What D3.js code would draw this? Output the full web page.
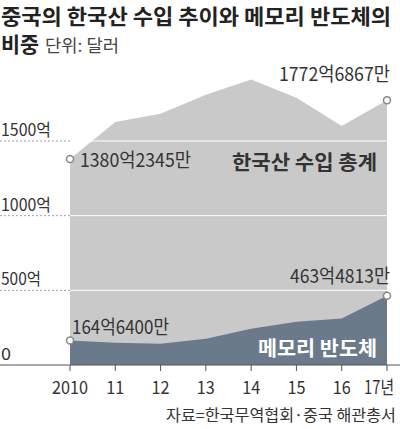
<!DOCTYPE html>
<html><head><meta charset="utf-8">
<script src="https://d3js.org/d3.v7.min.js"></script>
<style>body{margin:0;background:#fff;font-family:"Noto Sans CJK KR",sans-serif}</style>
</head><body><div id="chart"></div>
<script>
var years = [2010, 2011, 2012, 2013, 2014, 2015, 2016, 2017];
var yearLabels = ["2010", "11", "12", "13", "14", "15", "16", "17년"];
var totalImports = [1380.2, 1628, 1682, 1810, 1912, 1790, 1601, 1772.7];
var memoryChips = [164.6, 149, 142, 176, 243, 290, 311, 463.5];
var yTicks = [0, 500, 1000, 1500];

var svg = d3.select("#chart").append("svg").attr("width", 400).attr("height", 429);
var x = d3.scaleLinear().domain([2010, 2017]).range([70, 387]);
var y = d3.scaleLinear().domain([0, 1500]).range([365, 141]);

function area(vals) {
  return d3.area().x(function(d, i) { return x(years[i]); }).y0(y(0)).y1(function(d) { return y(d); })(vals);
}
svg.append("path").attr("d", area(totalImports)).attr("fill", "#c9c9c9");
svg.append("path").attr("d", area(memoryChips)).attr("fill", "#6b7a8a");

// text helper, squeezes to a width like the condensed print font
function label(t, xx, yy, size, opts) {
  opts = opts || {};
  var el = svg.append("text").attr("x", xx).attr("y", yy).attr("font-size", size)
    .attr("fill", opts.fill || "#333").attr("font-weight", opts.bold ? "bold" : null)
    .attr("text-anchor", opts.anchor || "start").text(t);
  if (opts.w) el.attr("textLength", opts.w).attr("lengthAdjust", "spacingAndGlyphs");
  return el;
}

// gridlines
yTicks.slice(1).forEach(function(t) {
  svg.append("line").attr("x1", 0).attr("x2", x(2010)).attr("y1", y(t)).attr("y2", y(t))
    .attr("stroke", "#888").attr("stroke-dasharray", "2,2").attr("stroke-width", 0.8);
  svg.append("line").attr("x1", x(2010)).attr("x2", x(2017)).attr("y1", y(t)).attr("y2", y(t))
    .attr("stroke", "#fff").attr("stroke-width", 1);
});
yTicks.forEach(function(t) {
  var s = t ? t + "억" : "0";
  label(s, 1, y(t) - 5, 17, {w: s.length * 10});
});

svg.append("line").attr("x1", 0).attr("x2", 400).attr("y1", y(0)).attr("y2", y(0)).attr("stroke", "#555");
years.forEach(function(yr, i) {
  svg.append("line").attr("x1", x(yr)).attr("x2", x(yr)).attr("y1", y(0)).attr("y2", y(0) + 6).attr("stroke", "#555");
  label(yearLabels[i], x(yr) + (i == 7 ? -8 : 0), 394, 18, {anchor: "middle", w: i == 0 ? 36 : (i == 7 ? 30 : 18)});
});

// markers
[[0, totalImports], [7, totalImports], [0, memoryChips], [7, memoryChips]].forEach(function(p) {
  svg.append("circle").attr("cx", x(years[p[0]])).attr("cy", y(p[1][p[0]])).attr("r", 3.5)
    .attr("fill", "#fff").attr("stroke", "#888").attr("stroke-width", 1.5);
});

label("1380억2345만", 80, 167, 19, {w: 111});
label("1772억6867만", 390, 81, 19, {anchor: "end", w: 111});
label("164억6400만", 72, 334, 19, {w: 97});
label("463억4813만", 390, 283, 19, {anchor: "end", w: 100});
label("한국산 수입 총계", 377, 170, 20, {anchor: "end", bold: true, w: 145});
label("메모리 반도체", 377, 356, 20, {anchor: "end", bold: true, fill: "#fff", w: 119});

label("중국의 한국산 수입 추이와 메모리 반도체의", 1, 24, 21, {bold: true, fill: "#222", w: 390});
label("비중", 1, 52, 21, {bold: true, fill: "#222", w: 38});
label("단위: 달러", 45, 52, 17, {fill: "#444", w: 74});
label("자료=한국무역협회·중국 해관총서", 396, 421, 16, {anchor: "end", fill: "#333", w: 230});
</script></body></html>
